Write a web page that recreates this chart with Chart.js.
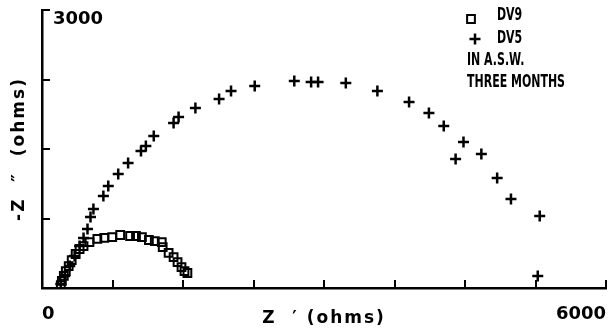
<!DOCTYPE html>
<html>
<head>
<meta charset="utf-8">
<script src="https://cdn.jsdelivr.net/npm/chart.js@4/dist/chart.umd.min.js"></script>
<style>
html,body{margin:0;padding:0;background:#fff;}
#wrap{width:614px;height:333px;position:relative;}
</style>
</head>
<body>
<div id="wrap"><canvas id="c" width="614" height="333"></canvas></div>
<script>
// ---- data (ohms) ----
const dv9X = [200, 211, 232, 253, 284, 316, 358, 400, 442, 505, 589, 663, 747, 832, 937, 1000, 1063, 1137, 1200, 1274, 1284, 1347, 1400, 1442, 1484, 1516, 1547];
const dv9Y = [32, 76, 130, 183, 237, 302, 367, 421, 453, 496, 529, 540, 550, 572, 561, 561, 550, 518, 507, 496, 442, 378, 334, 280, 226, 183, 162];

const dv5X = [200, 242, 295, 347, 400, 442, 484, 516, 547, 653, 705, 811, 916, 1053, 1105, 1189, 1400, 1453, 1632, 1884, 2011, 2263, 2684, 2863, 2937, 3232, 3568, 3905, 4116, 4274, 4484, 4400, 4674, 4842, 4989, 5295, 5274];
const dv5Y = [43, 130, 237, 345, 453, 540, 637, 766, 853, 993, 1101, 1230, 1349, 1478, 1532, 1640, 1780, 1845, 1942, 2039, 2126, 2180, 2234, 2223, 2223, 2212, 2126, 2007, 1888, 1748, 1575, 1392, 1446, 1187, 960, 777, 129];

const seriesNames = ['DV9', 'DV5'];
const noteLines = ['IN A.S.W.', 'THREE MONTHS'];

const xMin = 0, xMax = 6000, xStep = 750;
const yMin = 0, yMax = 3000, yStep = 750;
const xLabelValues = [0, 6000];
const yLabelValues = [3000];
const xTitle = 'Z  \u2032 (ohms)';
const yTitle = '-Z  \u2033  (ohms)';

const toPts = (xs, ys) => xs.map((x, i) => ({x: x, y: ys[i]}));

// axis titles are drawn with a little letter spacing (tick labels are drawn later, without it)
const titleSpacing = {
  id: 'titleSpacing',
  beforeDraw(chart) { chart.ctx.letterSpacing = '2px'; },
  beforeDatasetsDraw(chart) { chart.ctx.letterSpacing = '0px'; }
};

const inwardTicks = {
  id: 'inwardTicks',
  afterDraw(chart) {
    const ctx = chart.ctx;
    const xs = chart.scales.x, ys = chart.scales.y;
    const a = chart.chartArea;
    ctx.save();
    ctx.strokeStyle = '#000';
    ctx.lineWidth = 2;
    xs.ticks.forEach(t => {
      if (t.value === xMin) return;
      const px = Math.round(xs.getPixelForValue(t.value));
      ctx.beginPath(); ctx.moveTo(px, a.bottom); ctx.lineTo(px, a.bottom - 8); ctx.stroke();
    });
    ys.ticks.forEach(t => {
      if (t.value === yMin) return;
      const py = Math.round(ys.getPixelForValue(t.value));
      ctx.beginPath(); ctx.moveTo(a.left, py); ctx.lineTo(a.left + 8, py); ctx.stroke();
    });
    ctx.restore();
  }
};

const notesLegend = {
  id: 'notesLegend',
  afterDraw(chart) {
    const ctx = chart.ctx;
    const H = Chart.helpers;
    ctx.save();
    ctx.letterSpacing = '0px';
    ctx.fillStyle = '#000';
    ctx.font = 'bold 17px "DejaVu Sans Condensed", "DejaVu Sans", sans-serif';
    ctx.textBaseline = 'middle';
    ctx.textAlign = 'left';
    const sx = 98 / ctx.measureText(noteLines[1]).width;
    const drawT = (txt, x, y) => {
      ctx.save(); ctx.translate(x, y); ctx.scale(sx, 1); ctx.fillText(txt, 0, 0); ctx.restore();
    };
    const ds = chart.data.datasets;
    const markerPos = [[471, 19], [475, 39]];
    const textY = [16, 39];
    ds.forEach((d, i) => {
      ctx.strokeStyle = '#000';
      ctx.fillStyle = 'rgba(0,0,0,0)';
      ctx.lineWidth = d.pointBorderWidth;
      H.drawPoint(ctx, {pointStyle: d.pointStyle, radius: d.pointRadius, borderWidth: d.pointBorderWidth, rotation: 0}, markerPos[i][0], markerPos[i][1]);
      ctx.fillStyle = '#000';
      drawT(d.label, 497, textY[i]);
    });
    drawT(noteLines[0], 467, 61);
    drawT(noteLines[1], 467, 83);
    ctx.restore();
  }
};

new Chart(document.getElementById('c'), {
  type: 'scatter',
  data: {
    datasets: [
      {label: seriesNames[0], data: toPts(dv9X, dv9Y), pointStyle: 'rect', pointRadius: 5.5, pointBorderWidth: 2,
       borderColor: '#000', backgroundColor: 'rgba(0,0,0,0)', pointBackgroundColor: 'rgba(0,0,0,0)', pointBorderColor: '#000'},
      {label: seriesNames[1], data: toPts(dv5X, dv5Y), pointStyle: 'cross', pointRadius: 5.5, pointBorderWidth: 2.5,
       borderColor: '#000', backgroundColor: '#000', pointBorderColor: '#000'}
    ]
  },
  options: {
    responsive: false,
    devicePixelRatio: 1,
    animation: false,
    layout: {padding: {top: 10, right: 2, left: 0, bottom: 0}},
    plugins: {legend: {display: false}, tooltip: {enabled: false}},
    scales: {
      x: {
        type: 'linear', min: xMin, max: xMax,
        grid: {display: false},
        border: {display: true, color: '#000', width: 2.5},
        ticks: {
          z: 1,
          stepSize: xStep, autoSkip: false, maxRotation: 0, minRotation: 0, align: 'inner',
          padding: 8, color: '#000',
          font: {family: 'DejaVu Sans', weight: 'bold', size: 18},
          callback: v => xLabelValues.includes(v) ? String(v) : ''
        },
        title: {display: true, text: xTitle, color: '#000', padding: {top: 0, bottom: 4},
                font: {family: 'DejaVu Sans', weight: 'bold', size: 17}},
        afterFit: s => { s.height = 45; s.paddingLeft = 0; s.paddingRight = 0; }
      },
      y: {
        type: 'linear', min: yMin, max: yMax,
        grid: {display: false},
        border: {display: true, color: '#000', width: 2.5},
        ticks: {
          z: 1,
          stepSize: yStep, autoSkip: false, mirror: true, padding: 11, labelOffset: 9, color: '#000',
          font: {family: 'DejaVu Sans', weight: 'bold', size: 18},
          callback: v => yLabelValues.includes(v) ? String(v) : ''
        },
        title: {display: true, text: yTitle, color: '#000', padding: {top: 9, bottom: 0},
                font: {family: 'DejaVu Sans', weight: 'bold', size: 17}},
        afterFit: s => { s.width = 42; s.paddingTop = 0; s.paddingBottom = 0; }
      }
    }
  },
  plugins: [titleSpacing, inwardTicks, notesLegend]
});
</script>
</body>
</html>
